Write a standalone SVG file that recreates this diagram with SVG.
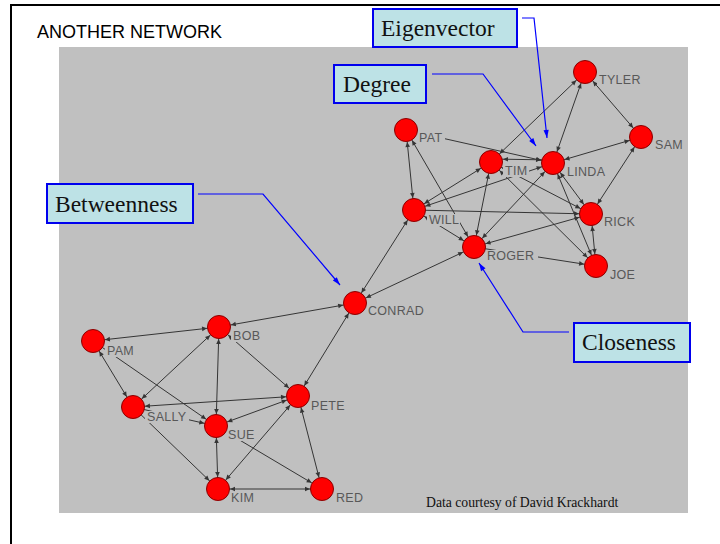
<svg xmlns="http://www.w3.org/2000/svg" width="720" height="544" viewBox="0 0 720 544">
  <style>
    .edge { stroke: #353535; stroke-width: 1; fill: none; marker-start: url(#ah); marker-end: url(#ah); }
    .edge.one { marker-start: none; }
    .node circle { fill: #ff0000; stroke: #8a0000; stroke-width: 1; }
    .lbl-bg { fill: #c0c0c0; }
    .lbl { font-family: "Liberation Sans", Arial, sans-serif; font-size: 12.5px; letter-spacing: 0.3px; fill: #585858; }
    .callout rect { fill: #bde2e6; stroke: #0000ee; stroke-width: 2; }
    .callout text { font-family: "Liberation Serif", "Times New Roman", serif; font-size: 23.5px; fill: #111111; }
    .pointer { stroke: #0000ff; stroke-width: 1.2; fill: none; marker-end: url(#bh); }
  </style>
  <defs>
    <marker id="ah" markerUnits="userSpaceOnUse" markerWidth="1" markerHeight="1" orient="auto-start-reverse" overflow="visible">
      <path d="M-12,0 L-17,-2.3 L-17,2.3 Z" fill="#353535"/>
    </marker>
    <marker id="bh" markerUnits="userSpaceOnUse" markerWidth="1" markerHeight="1" orient="auto" overflow="visible">
      <path d="M0,0 L-8,-2.6 L-8,2.6 Z" fill="#0000ff"/>
    </marker>
  </defs>

  <!-- page -->
  <rect x="0" y="0" width="720" height="544" fill="#ffffff"/>
  <path d="M11,544 V5 H720" stroke="#000000" stroke-width="2" fill="none"/>
  <text x="37" y="38" font-family="Liberation Sans, Arial, sans-serif" font-size="18" fill="#000000">ANOTHER NETWORK</text>

  <!-- plot area -->
  <rect x="59" y="47" width="629" height="466" fill="#c0c0c0"/>

  <!-- ties -->
  <g id="connectors">
    <line class="edge" x1="585" y1="72" x2="491" y2="162"/>
    <line class="edge" x1="585" y1="72" x2="553" y2="163"/>
    <line class="edge" x1="585" y1="72" x2="641" y2="137"/>
    <line class="edge" x1="641" y1="137" x2="553" y2="163"/>
    <line class="edge" x1="641" y1="137" x2="591" y2="214"/>
    <line class="edge one" x1="406" y1="130" x2="553" y2="163"/>
    <line class="edge" x1="406" y1="130" x2="414" y2="210"/>
    <line class="edge" x1="406" y1="130" x2="474" y2="247"/>
    <line class="edge" x1="491" y1="159" x2="553" y2="160"/>
    <line class="edge" x1="491" y1="162" x2="414" y2="210"/>
    <line class="edge" x1="553" y1="163" x2="414" y2="210"/>
    <line class="edge" x1="491" y1="162" x2="474" y2="247"/>
    <line class="edge" x1="491" y1="162" x2="591" y2="214"/>
    <line class="edge" x1="491" y1="162" x2="596" y2="266"/>
    <line class="edge" x1="553" y1="163" x2="474" y2="247"/>
    <line class="edge" x1="553" y1="163" x2="591" y2="214"/>
    <line class="edge" x1="553" y1="163" x2="596" y2="266"/>
    <line class="edge one" x1="414" y1="210" x2="591" y2="214"/>
    <line class="edge" x1="414" y1="210" x2="474" y2="247"/>
    <line class="edge" x1="591" y1="214" x2="474" y2="247"/>
    <line class="edge" x1="591" y1="214" x2="596" y2="266"/>
    <line class="edge one" x1="474" y1="247" x2="596" y2="266"/>
    <line class="edge" x1="414" y1="210" x2="355" y2="303"/>
    <line class="edge" x1="474" y1="247" x2="355" y2="303"/>
    <line class="edge" x1="219" y1="327" x2="355" y2="303"/>
    <line class="edge" x1="93" y1="341" x2="219" y2="327"/>
    <line class="edge" x1="93" y1="341" x2="133" y2="407"/>
    <line class="edge one" x1="93" y1="341" x2="216" y2="426"/>
    <line class="edge" x1="219" y1="327" x2="133" y2="407"/>
    <line class="edge" x1="219" y1="327" x2="216" y2="426"/>
    <line class="edge" x1="219" y1="327" x2="298" y2="396"/>
    <line class="edge" x1="133" y1="407" x2="298" y2="396"/>
    <line class="edge one" x1="133" y1="407" x2="216" y2="426"/>
    <line class="edge one" x1="133" y1="407" x2="218" y2="489"/>
    <line class="edge" x1="216" y1="426" x2="298" y2="396"/>
    <line class="edge" x1="216" y1="426" x2="218" y2="489"/>
    <line class="edge one" x1="216" y1="426" x2="322" y2="489"/>
    <line class="edge" x1="298" y1="396" x2="218" y2="489"/>
    <line class="edge" x1="298" y1="396" x2="322" y2="489"/>
    <line class="edge" x1="298" y1="396" x2="355" y2="303"/>
    <line class="edge" x1="218" y1="489" x2="322" y2="489"/>
  </g>

  <!-- actors -->
  <g id="TYLER" class="node"><rect class="lbl-bg" x="597" y="74" width="46" height="12"/><circle cx="585" cy="72" r="11.5"/><text class="lbl" x="599" y="84">TYLER</text></g>
  <g id="SAM" class="node"><rect class="lbl-bg" x="653" y="139" width="32" height="12"/><circle cx="641" cy="137" r="11.5"/><text class="lbl" x="655" y="149">SAM</text></g>
  <g id="PAT" class="node"><rect class="lbl-bg" x="417" y="132" width="28" height="12"/><circle cx="406" cy="130" r="11.5"/><text class="lbl" x="419" y="142">PAT</text></g>
  <g id="TIM" class="node"><rect class="lbl-bg" x="503" y="165" width="26" height="12"/><circle cx="491" cy="162" r="11.5"/><text class="lbl" x="505" y="175">TIM</text></g>
  <g id="LINDA" class="node"><rect class="lbl-bg" x="565" y="166" width="42" height="12"/><circle cx="553" cy="163" r="11.5"/><text class="lbl" x="567" y="176">LINDA</text></g>
  <g id="WILL" class="node"><rect class="lbl-bg" x="427" y="214" width="33" height="12"/><circle cx="414" cy="210" r="11.5"/><text class="lbl" x="429" y="224">WILL</text></g>
  <g id="RICK" class="node"><rect class="lbl-bg" x="602" y="216" width="34" height="12"/><circle cx="591" cy="214" r="11.5"/><text class="lbl" x="604" y="226">RICK</text></g>
  <g id="ROGER" class="node"><rect class="lbl-bg" x="485" y="250" width="53" height="12"/><circle cx="474" cy="247" r="11.5"/><text class="lbl" x="487" y="260">ROGER</text></g>
  <g id="JOE" class="node"><rect class="lbl-bg" x="608" y="269" width="30" height="12"/><circle cx="596" cy="266" r="11.5"/><text class="lbl" x="610" y="279">JOE</text></g>
  <g id="CONRAD" class="node"><rect class="lbl-bg" x="366" y="305" width="59" height="12"/><circle cx="355" cy="303" r="11.5"/><text class="lbl" x="368" y="315">CONRAD</text></g>
  <g id="PAM" class="node"><rect class="lbl-bg" x="105" y="345" width="32" height="12"/><circle cx="93" cy="341" r="11.5"/><text class="lbl" x="107" y="355">PAM</text></g>
  <g id="BOB" class="node"><rect class="lbl-bg" x="231" y="330" width="31" height="12"/><circle cx="219" cy="327" r="11.5"/><text class="lbl" x="233" y="340">BOB</text></g>
  <g id="SALLY" class="node"><rect class="lbl-bg" x="145" y="411" width="44" height="12"/><circle cx="133" cy="407" r="11.5"/><text class="lbl" x="147" y="421">SALLY</text></g>
  <g id="SUE" class="node"><rect class="lbl-bg" x="226" y="429" width="32" height="12"/><circle cx="216" cy="426" r="11.5"/><text class="lbl" x="228" y="439">SUE</text></g>
  <g id="PETE" class="node"><rect class="lbl-bg" x="309" y="400" width="38" height="12"/><circle cx="298" cy="396" r="11.5"/><text class="lbl" x="311" y="410">PETE</text></g>
  <g id="KIM" class="node"><rect class="lbl-bg" x="229" y="492" width="30" height="12"/><circle cx="218" cy="489" r="11.5"/><text class="lbl" x="231" y="502">KIM</text></g>
  <g id="RED" class="node"><rect class="lbl-bg" x="334" y="492" width="32" height="12"/><circle cx="322" cy="489" r="11.5"/><text class="lbl" x="336" y="502">RED</text></g>

  <text x="426" y="507" font-family="Liberation Serif, Times New Roman, serif" font-size="13.7" fill="#111111">Data courtesy of David Krackhardt</text>

  <!-- centrality callouts -->
  <g id="pointers">
    <polyline class="pointer" points="522,18 534,18 547,138"/>
    <polyline class="pointer" points="432,74 483,74 536,146"/>
    <polyline class="pointer" points="198,194 263,194 340,285"/>
    <polyline class="pointer" points="569,332 523,332 479,263"/>
  </g>
  <g id="eigenvector" class="callout"><rect x="373" y="9" width="144" height="38"/><text x="381" y="36">Eigenvector</text></g>
  <g id="degree" class="callout"><rect x="334" y="65" width="92" height="38"/><text x="343" y="92">Degree</text></g>
  <g id="betweenness" class="callout"><rect x="47" y="184" width="146" height="39"/><text x="55" y="212">Betweenness</text></g>
  <g id="closeness" class="callout"><rect x="574" y="323" width="116" height="39"/><text x="582" y="350">Closeness</text></g>
</svg>
